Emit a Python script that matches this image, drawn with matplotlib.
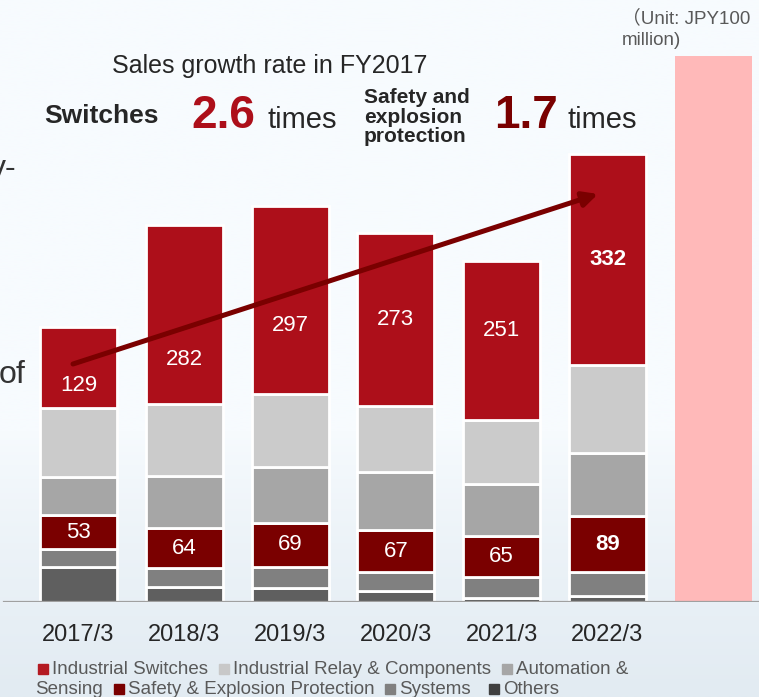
import matplotlib
matplotlib.use("Agg")
import matplotlib.pyplot as plt
import numpy as np
from matplotlib.colors import LinearSegmentedColormap
from matplotlib.patches import Rectangle

plt.rcParams['font.family'] = ['Liberation Sans', 'Noto Sans CJK JP', 'DejaVu Sans']

# data (JPY 100 million)
years = ['2017/3', '2018/3', '2019/3', '2020/3', '2021/3', '2022/3']
series = ['Others', 'Systems', 'Safety & Explosion Protection',
          'Automation & Sensing', 'Industrial Relay & Components', 'Industrial Switches']
others = [55, 24, 22, 18, 6, 9]
systems = [29, 29, 34, 29, 34, 38]
safety = [53, 64, 69, 67, 65, 89]
automation = [61, 82, 88, 91, 82, 100]
relay = [108, 114, 115, 105, 100, 139]
switches = [129, 282, 297, 273, 251, 332]
highlight_height = 862

colors = {
    'Others': '#5f5f5f',
    'Systems': '#808080',
    'Safety & Explosion Protection': '#7a0000',
    'Automation & Sensing': '#a6a6a6',
    'Industrial Relay & Components': '#cbcbcb',
    'Industrial Switches': '#ad0f1a',
}
legend_colors = {
    'Industrial Switches': '#b41a22',
    'Industrial Relay & Components': '#c8c8c8',
    'Automation & Sensing': '#a6a6a6',
    'Safety & Explosion Protection': '#7a0000',
    'Systems': '#808080',
    'Others': '#404040',
}

W, H = 759, 697
fig = plt.figure(figsize=(W / 100, H / 100), dpi=100)
fig.patch.set_facecolor('#f7fbfe')


def px(x, y):
    return x / W, 1 - y / H


# faint background shading toward the bottom
bg = fig.add_axes([0, 0, 1, 1], zorder=-5)
grad = np.linspace(0, 1, 300)
grad = np.clip((grad - 0.62) / 0.38, 0, 1) ** 0.8
cmap = LinearSegmentedColormap.from_list('bg', ['#f7fbfe', '#e2ebf2'])
bg.imshow(grad[:, None], extent=[0, 1, 0, 1], aspect='auto', cmap=cmap,
          origin='upper', vmin=0, vmax=1)
bg.axis('off')

# main axes: baseline at y=602px
base_px = 602
unit_px = 0.633
ax = fig.add_axes([0, (H - base_px) / H, 1, base_px / H])
ax.patch.set_alpha(0)
step = 105.8
x0 = 78.5
ax.set_xlim(-x0 / step, (W - x0) / step)
ax.set_ylim(0, base_px / unit_px)

x = np.arange(len(years))
width = 77 / step
stack = [others, systems, safety, automation, relay, switches]
bottom = np.zeros(len(years))
bottoms = {}
for name, vals in zip(series, stack):
    bottoms[name] = bottom.copy()
    ax.bar(x, vals, width, bottom=bottom, color=colors[name],
           edgecolor='white', linewidth=2, zorder=2)
    bottom = bottom + np.array(vals)

# pink highlight block at the right
ax.bar(len(years), highlight_height, width, color='#ffb9b9', zorder=1)

# baseline
ax.axhline(0, xmin=4 / W, xmax=1, color='#a0a0a0', lw=1.6, zorder=3)

# value labels
sw_offset = [-29, -71, -39, 0, 17, 0]
for i in range(len(years)):
    bold = 'bold' if i == len(years) - 1 else 'normal'
    ys = bottoms['Industrial Switches'][i] + switches[i] / 2 + sw_offset[i]
    ax.text(x[i], ys, str(switches[i]), ha='center', va='center', color='white',
            fontsize=16, fontweight=bold, zorder=5)
    yf = bottoms['Safety & Explosion Protection'][i] + safety[i] / 2
    ax.text(x[i], yf, str(safety[i]), ha='center', va='center', color='white',
            fontsize=16, fontweight=bold, zorder=5)

# growth arrow
ax.annotate('', xy=((598 - x0) / step, (base_px - 194) / unit_px),
            xytext=((73 - x0) / step, (base_px - 364) / unit_px),
            arrowprops=dict(arrowstyle='-|>', color='#7a0000', lw=3.6,
                            mutation_scale=22, shrinkA=0, shrinkB=0), zorder=6)

ax.set_xticks(x, years)
ax.tick_params(axis='x', length=0, pad=16, labelsize=17, labelcolor='#262626')
ax.set_yticks([])
for s in ax.spines.values():
    s.set_visible(False)

dark = '#262626'
fig.text(*px(112, 73), 'Sales growth rate in FY2017', fontsize=18, color=dark,
         ha='left', va='baseline')
fig.text(*px(44, 123), 'Switches', fontsize=19, fontweight='bold', color=dark,
         ha='left', va='baseline')
fig.text(*px(191, 128), '2.6', fontsize=33, fontweight='bold', color='#ad0f1a',
         ha='left', va='baseline')
fig.text(*px(267, 128), 'times', fontsize=21, color=dark, ha='left', va='baseline')
for yy, line in zip([103, 123, 142], ['Safety and', 'explosion', 'protection']):
    fig.text(*px(364, yy), line, fontsize=15, fontweight='bold', color=dark,
             ha='left', va='baseline')
fig.text(*px(494, 128), '1.7', fontsize=33, fontweight='bold', color='#7a0000',
         ha='left', va='baseline')
fig.text(*px(568, 128), 'times', fontsize=21, color=dark, ha='left', va='baseline')

# unit note
gray = '#595959'
fig.text(*px(622, 23), '（Unit: JPY100', fontsize=13.5, color=gray, ha='left', va='baseline')
fig.text(*px(622, 45), 'million)', fontsize=13.5, color=gray, ha='left', va='baseline')

# text fragments from the slide, cut at the left edge
fig.text(*px(17, 177), 'y-', fontsize=23, color='#333333', ha='right', va='baseline')
fig.text(*px(26, 383), 'of', fontsize=23, color='#333333', ha='right', va='baseline')

# legend, written as two wrapped lines
line1 = [('sq', 'Industrial Switches'), ('txt', 'Industrial Switches'),
         ('sq', 'Industrial Relay & Components'), ('txt', 'Industrial Relay & Components'),
         ('sq', 'Automation & Sensing'), ('txt', 'Automation &')]
line2 = [('txt', 'Sensing'), ('sq', 'Safety & Explosion Protection'),
         ('txt', 'Safety & Explosion Protection'), ('sq', 'Systems'),
         ('txt', 'Systems'), ('sq', 'Others'), ('txt', 'Others')]

fig.canvas.draw()
renderer = fig.canvas.get_renderer()


def place_line(items, start_x, base_y):
    cur = start_x
    for kind, name in items:
        if kind == 'sq':
            sq = 10
            fig.patches.append(Rectangle((cur / W, 1 - base_y / H), sq / W, sq / H,
                                         transform=fig.transFigure, color=legend_colors[name]))
            cur += sq + 4
        else:
            t = fig.text(*px(cur, base_y), name, fontsize=13.5, color=gray,
                         ha='left', va='baseline')
            cur = t.get_window_extent(renderer=renderer).x1
            cur += 18 if name == 'Systems' else 11


place_line(line1, 38, 674)
place_line(line2, 35, 694)

fig.savefig('out.png', dpi=100, facecolor=fig.get_facecolor())
